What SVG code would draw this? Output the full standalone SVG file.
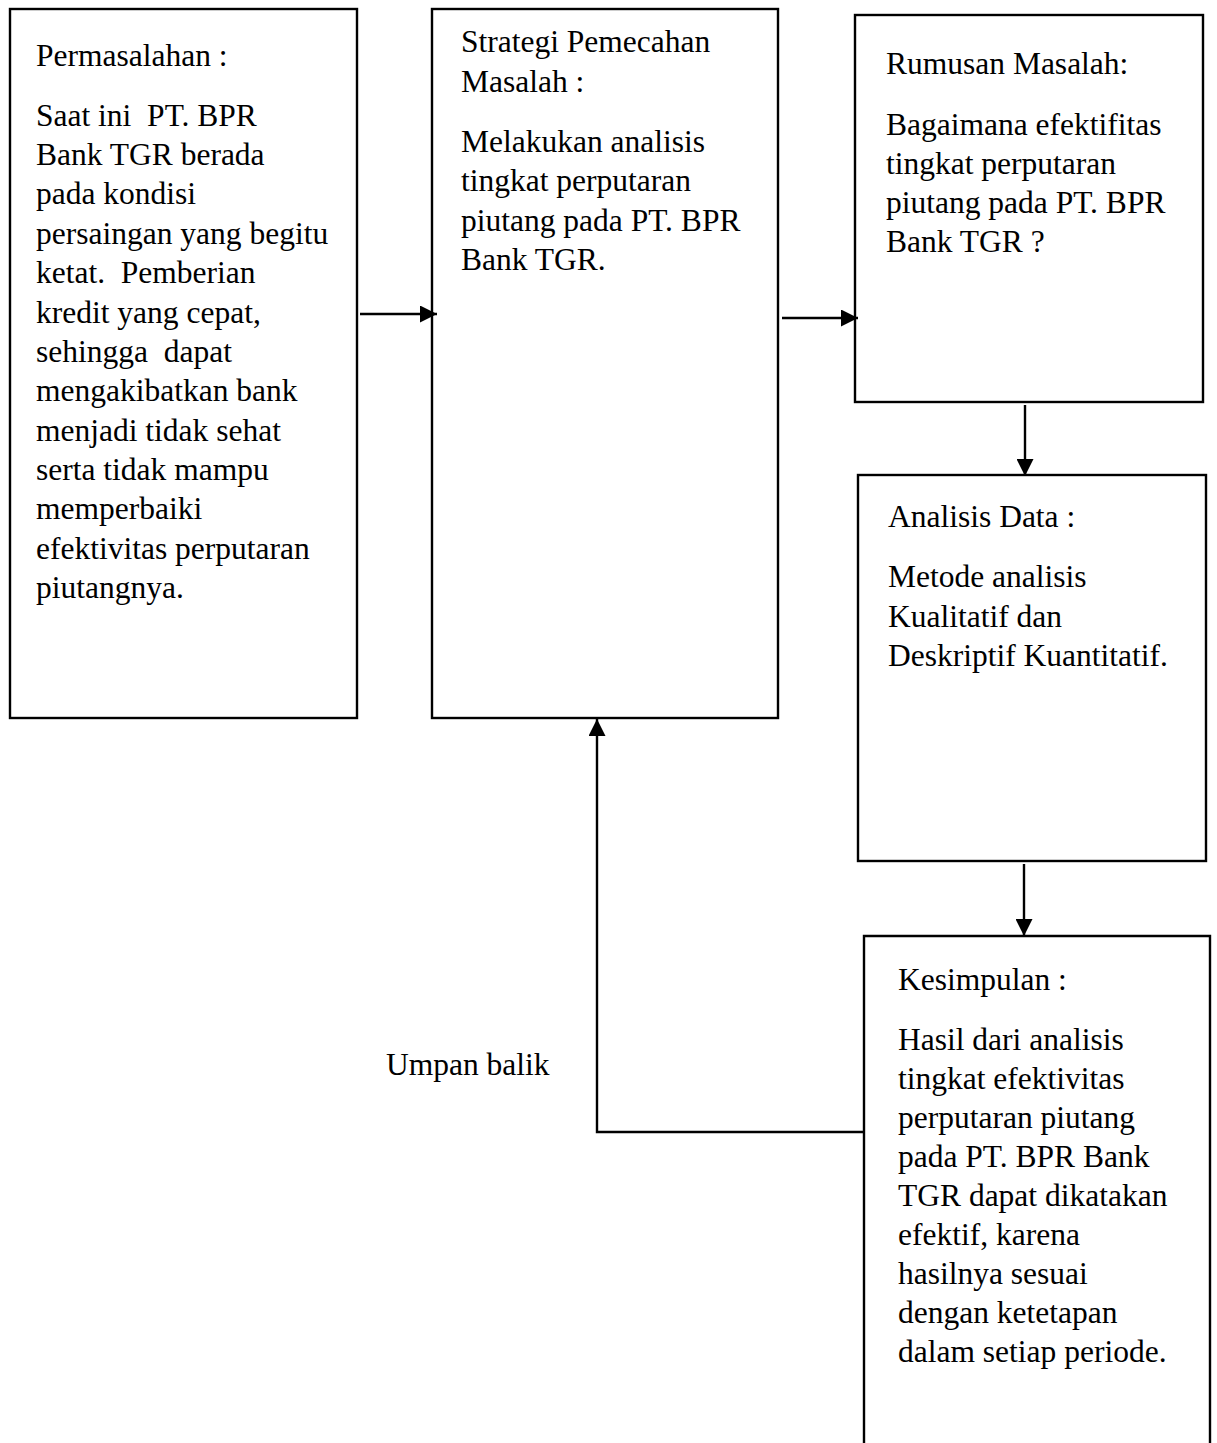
<svg xmlns="http://www.w3.org/2000/svg" width="1217" height="1443" viewBox="0 0 1217 1443">
<defs>
<style>
.box{fill:none;stroke:#000;stroke-width:2.4}
.t{font-family:"Liberation Serif","Times New Roman",serif;font-size:31.5px;fill:#000;white-space:pre}
.c{fill:none;stroke:#000;stroke-width:2.4}
</style>
<marker id="ah" markerUnits="userSpaceOnUse" markerWidth="17" markerHeight="17" viewBox="0 0 17 17" refX="17" refY="8.5" orient="auto">
<path d="M0,0 L17,8.5 L0,17 Z" fill="#000"/>
</marker>
</defs>
<rect width="1217" height="1443" fill="#fff"/>
<g id="connectors">
<line class="c" x1="360" y1="314" x2="437" y2="314" marker-end="url(#ah)"/>
<line class="c" x1="782" y1="318" x2="858" y2="318" marker-end="url(#ah)"/>
<line class="c" x1="1025" y1="405" x2="1025" y2="476" marker-end="url(#ah)"/>
<line class="c" x1="1024" y1="864" x2="1024" y2="936" marker-end="url(#ah)"/>
<polyline class="c" points="864,1132 597,1132 597,719" marker-end="url(#ah)"/>
<text class="t" x="386" y="1075">Umpan balik</text>
</g>
<g id="permasalahan">
<rect class="box" x="10" y="9" width="347" height="709"/>
<text class="t" x="36" y="66">Permasalahan :</text>
<text class="t" x="36" y="126" xml:space="preserve">Saat ini  PT. BPR</text>
<text class="t" x="36" y="165">Bank TGR berada</text>
<text class="t" x="36" y="204">pada kondisi</text>
<text class="t" x="36" y="244">persaingan yang begitu</text>
<text class="t" x="36" y="283" xml:space="preserve">ketat.  Pemberian</text>
<text class="t" x="36" y="323">kredit yang cepat,</text>
<text class="t" x="36" y="362" xml:space="preserve">sehingga  dapat</text>
<text class="t" x="36" y="401">mengakibatkan bank</text>
<text class="t" x="36" y="441">menjadi tidak sehat</text>
<text class="t" x="36" y="480">serta tidak mampu</text>
<text class="t" x="36" y="519">memperbaiki</text>
<text class="t" x="36" y="559">efektivitas perputaran</text>
<text class="t" x="36" y="598">piutangnya.</text>
</g>
<g id="strategi">
<rect class="box" x="432" y="9" width="346" height="709"/>
<text class="t" x="461" y="52">Strategi Pemecahan</text>
<text class="t" x="461" y="92">Masalah :</text>
<text class="t" x="461" y="152">Melakukan analisis</text>
<text class="t" x="461" y="191">tingkat perputaran</text>
<text class="t" x="461" y="231">piutang pada PT. BPR</text>
<text class="t" x="461" y="270">Bank TGR.</text>
</g>
<g id="rumusan">
<rect class="box" x="855" y="15" width="348" height="387"/>
<text class="t" x="886" y="74">Rumusan Masalah:</text>
<text class="t" x="886" y="135">Bagaimana efektifitas</text>
<text class="t" x="886" y="174">tingkat perputaran</text>
<text class="t" x="886" y="213">piutang pada PT. BPR</text>
<text class="t" x="886" y="252">Bank TGR ?</text>
</g>
<g id="analisis">
<rect class="box" x="858" y="475" width="348" height="386"/>
<text class="t" x="888" y="527">Analisis Data :</text>
<text class="t" x="888" y="587">Metode analisis</text>
<text class="t" x="888" y="627">Kualitatif dan</text>
<text class="t" x="888" y="666">Deskriptif Kuantitatif.</text>
</g>
<g id="kesimpulan">
<path class="box" d="M864,1443 V936 H1210 V1443"/>
<text class="t" x="898" y="990">Kesimpulan :</text>
<text class="t" x="898" y="1050">Hasil dari analisis</text>
<text class="t" x="898" y="1089">tingkat efektivitas</text>
<text class="t" x="898" y="1128">perputaran piutang</text>
<text class="t" x="898" y="1167">pada PT. BPR Bank</text>
<text class="t" x="898" y="1206">TGR dapat dikatakan</text>
<text class="t" x="898" y="1245">efektif, karena</text>
<text class="t" x="898" y="1284">hasilnya sesuai</text>
<text class="t" x="898" y="1323">dengan ketetapan</text>
<text class="t" x="898" y="1362">dalam setiap periode.</text>
</g>
</svg>
